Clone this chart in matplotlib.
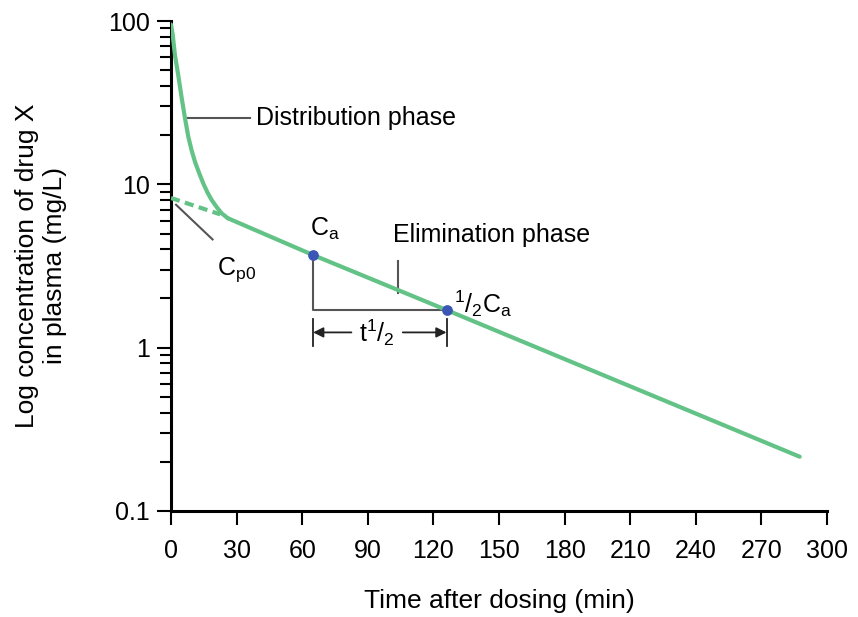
import matplotlib
matplotlib.use("Agg")
import matplotlib.pyplot as plt

plt.rcParams['font.family'] = ['Liberation Sans', 'DejaVu Sans']
plt.rcParams['mathtext.fontset'] = 'custom'
plt.rcParams['mathtext.rm'] = 'Liberation Sans'
plt.rcParams['mathtext.it'] = 'Liberation Sans'

# distribution phase
dist_t = [0, 0.8, 1.8, 3.3, 4.9, 6.4, 7.9, 9.4, 11.0, 12.9, 14.8, 16.7, 18.6, 20.9, 23.2, 26.0]
dist_c = [95, 82, 61.9, 46.7, 33.7, 25.4, 19.6, 16.2, 13.7, 11.7, 10.1, 8.9, 8.02, 7.25, 6.64, 6.2]

# back-extrapolated part (dashed) and elimination phase
extrap_t = [0, 22.5]
extrap_c = [8.25, 6.55]
elim_t = [26.0, 65, 126, 287.5]
elim_c = [6.2, 3.69, 1.70, 0.215]

ca_t, ca_c = 65, 3.69
half_t, half_c = 126, 1.70

xticks = list(range(0, 301, 30))
yticks = [0.1, 1, 10, 100]
ytick_labels = ['0.1', '1', '10', '100']

green = '#63c286'
gray = '#555555'

fig = plt.figure(figsize=(8.58, 6.17), dpi=100)
ax = fig.add_axes([171 / 858, 1 - 511 / 617, 656 / 858, 490 / 617])

ax.plot(dist_t, dist_c, color=green, lw=3, solid_capstyle='round',
        solid_joinstyle='round', zorder=3)
ax.plot(extrap_t, extrap_c, color=green, lw=3, ls=(0, (2.2, 1.3)), zorder=3)
ax.plot(elim_t, elim_c, color=green, lw=3, solid_capstyle='round', zorder=3)

# half-life construction
ax.plot([ca_t, ca_t, half_t], [ca_c, half_c, half_c], color=gray, lw=1.5, zorder=2)
ax.scatter([ca_t, half_t], [ca_c, half_c], s=45, color='#3b56b4', zorder=4)

ya = 1.24
ax.plot([ca_t, ca_t], [1.02, 1.5], color='#222222', lw=1.3)
ax.plot([half_t, half_t], [1.02, 1.5], color='#222222', lw=1.3)
ax.annotate('', xy=(ca_t, ya), xytext=(82.5, ya),
            arrowprops=dict(arrowstyle='-|>', color='#222222', lw=1.3,
                            mutation_scale=15, shrinkA=0, shrinkB=0))
ax.annotate('', xy=(half_t, ya), xytext=(106, ya),
            arrowprops=dict(arrowstyle='-|>', color='#222222', lw=1.3,
                            mutation_scale=15, shrinkA=0, shrinkB=0))
ax.text(94.3, ya, r't$^{\rm 1}$/$_{\rm 2}$', fontsize=18, ha='center', va='center')

# labels on the curve
ax.plot([6.9, 36], [25.5, 25.5], color=gray, lw=1.5)
ax.text(39, 25.5, 'Distribution phase', fontsize=18, va='center')

ax.plot([2.3, 19], [7.5, 4.6], color=gray, lw=1.5)
ax.text(21, 3.0, r'C$_{\rm p0}$', fontsize=18, va='center')

ax.text(63.5, 5.3, r'C$_{\rm a}$', fontsize=18, va='center')

ax.plot([104, 104], [3.4, 2.15], color=gray, lw=1.5)
ax.text(101.5, 4.9, 'Elimination phase', fontsize=18, va='center')

ax.text(129.5, 1.85, r'$^{\rm 1}$/$_{\rm 2}$C$_{\rm a}$', fontsize=18, va='center')

ax.set_yscale('log')
ax.set_xlim(0, 300)
ax.set_ylim(0.1, 100)
ax.set_xticks(xticks)
ax.set_yticks(yticks)
ax.set_yticklabels(ytick_labels)
ax.tick_params(axis='both', labelsize=18, width=1.5, length=10, direction='out')
ax.tick_params(axis='y', which='minor', width=1.5, length=8, direction='out')
ax.tick_params(axis='x', pad=10)
ax.tick_params(axis='y', pad=5)

for side in ['top', 'right']:
    ax.spines[side].set_visible(False)
for side in ['left', 'bottom']:
    ax.spines[side].set_linewidth(2.2)

ax.set_xlabel('Time after dosing (min)', fontsize=19, labelpad=19)
ax.set_ylabel('Log concentration of drug X\nin plasma (mg/L)', fontsize=19, labelpad=30)

fig.savefig('out.png', dpi=100)
